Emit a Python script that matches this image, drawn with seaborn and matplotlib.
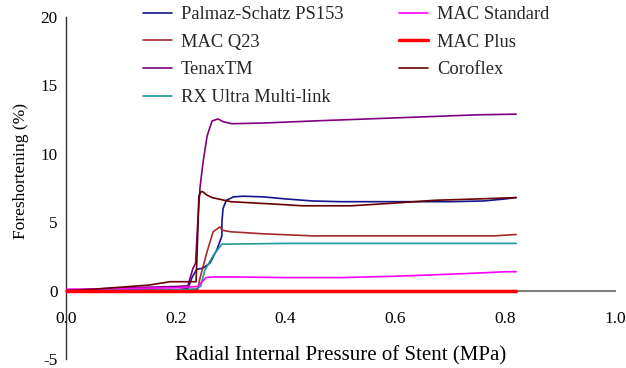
import numpy as np
import pandas as pd
import matplotlib
matplotlib.use("Agg")
import matplotlib.pyplot as plt
import seaborn as sns

sns.set_theme(style="white")
plt.rcParams['font.family'] = ['Liberation Serif', 'DejaVu Serif']

# ---- data ----
palmaz_x = [0, 0.1, 0.2, 0.222, 0.23, 0.238, 0.25, 0.262, 0.275, 0.284, 0.284, 0.286, 0.292, 0.305, 0.322, 0.36, 0.4, 0.45, 0.5, 0.6, 0.7, 0.76, 0.8, 0.82]
palmaz_y = [0, 0.03, 0.05, 0.15, 1.0, 1.55, 1.65, 2.0, 3.0, 4.0, 5.0, 6.0, 6.6, 6.85, 6.9, 6.85, 6.7, 6.55, 6.5, 6.5, 6.5, 6.55, 6.7, 6.8]

macq23_x = [0, 0.1, 0.2, 0.24, 0.244, 0.257, 0.268, 0.28, 0.286, 0.3, 0.36, 0.45, 0.6, 0.78, 0.82]
macq23_y = [0, 0.0, 0.05, 0.1, 0.9, 2.85, 4.3, 4.65, 4.4, 4.3, 4.15, 4.0, 4.0, 4.0, 4.1]

tenax_x = [0, 0.1, 0.2, 0.222, 0.231, 0.236, 0.24, 0.244, 0.25, 0.257, 0.266, 0.277, 0.286, 0.302, 0.36, 0.45, 0.55, 0.65, 0.75, 0.82]
tenax_y = [0, 0.2, 0.3, 0.35, 1.6, 2.0, 5.0, 7.5, 9.5, 11.3, 12.4, 12.55, 12.35, 12.2, 12.25, 12.4, 12.55, 12.7, 12.85, 12.9]

rx_x = [0, 0.1, 0.2, 0.235, 0.245, 0.253, 0.268, 0.284, 0.3, 0.4, 0.5, 0.6, 0.7, 0.82]
rx_y = [0, 0, 0.05, 0.1, 0.3, 1.5, 2.55, 3.4, 3.4, 3.45, 3.45, 3.45, 3.45, 3.45]

macstd_x = [0, 0.1, 0.2, 0.24, 0.255, 0.27, 0.3, 0.4, 0.5, 0.6, 0.7, 0.76, 0.8, 0.82]
macstd_y = [0.1, 0.15, 0.2, 0.3, 0.95, 1.0, 1.0, 0.95, 0.95, 1.05, 1.2, 1.3, 1.38, 1.38]

macplus_x = [0, 0.82]
macplus_y = [0, 0]

coroflex_x = [0, 0.05, 0.1, 0.15, 0.19, 0.237, 0.239, 0.242, 0.246, 0.25, 0.256, 0.266, 0.3, 0.39, 0.43, 0.52, 0.6, 0.67, 0.75, 0.82]
coroflex_y = [0, 0.1, 0.25, 0.4, 0.65, 0.65, 3.0, 6.9, 7.25, 7.2, 7.0, 6.8, 6.5, 6.3, 6.2, 6.2, 6.4, 6.6, 6.7, 6.8]

series = [
    ("Palmaz-Schatz PS153", palmaz_x, palmaz_y, "#14148c", 1.2),
    ("MAC Q23", macq23_x, macq23_y, "#a52a2a", 1.2),
    ("TenaxTM", tenax_x, tenax_y, "#800080", 1.2),
    ("RX Ultra Multi-link", rx_x, rx_y, "#1f9a9a", 1.2),
    ("MAC Standard", macstd_x, macstd_y, "#ff00ff", 1.2),
    ("MAC Plus", macplus_x, macplus_y, "#ff0000", 2.5),
    ("Coroflex", coroflex_x, coroflex_y, "#6a0000", 1.2),
]

fig = plt.figure(figsize=(6.26, 3.68), dpi=100)
ax = fig.add_axes([66/626, 1 - 359/368, (615-66)/626, (359-17)/368])

for name, xs, ys, col, lw in series:
    df = pd.DataFrame({"x": xs, "y": ys})
    sns.lineplot(data=df, x="x", y="y", ax=ax, color=col, linewidth=lw,
                 label=name, estimator=None, sort=False,
                 zorder=5 if name == "MAC Plus" else 3)

ax.set_xlim(0, 1.0)
ax.set_ylim(-5, 20)
ax.set_xticks([0, 0.2, 0.4, 0.6, 0.8, 1.0])
ax.set_xticklabels(["0.0", "0.2", "0.4", "0.6", "0.8", "1.0"])
ax.set_yticks([-5, 0, 5, 10, 15, 20])
ax.set_yticklabels(["-5", "0", "5", "10", "15", "20"])

ax.spines['top'].set_visible(False)
ax.spines['right'].set_visible(False)
ax.spines['bottom'].set_position(('data', 0))
ax.spines['bottom'].set_color('#808080')
ax.spines['bottom'].set_linewidth(1.5)
ax.spines['left'].set_color('#333333')
ax.spines['left'].set_linewidth(1.0)
ax.grid(False)

ax.tick_params(axis='x', direction='in', length=5, width=1, color='#555555',
               pad=15, labelsize=12.5, labelcolor='black')
ax.tick_params(axis='y', direction='in', length=5, width=1, color='#333333',
               pad=6, labelsize=12.3, labelcolor='black')

ax.set_xlabel("Radial Internal Pressure of Stent (MPa)", fontsize=15, color='black')
ax.xaxis.set_label_coords(0.5, 0.038)
ax.xaxis.label.set_va('top')
ax.set_ylabel("Foreshortening (%)", fontsize=12.5, color='black')
ax.yaxis.set_label_coords(-0.068, 0.55)

ax.legend(loc='upper left', bbox_to_anchor=(143/626, 1 - 6/368),
          bbox_transform=fig.transFigure, ncol=2, frameon=False,
          fontsize=13.3, borderpad=0, borderaxespad=0, handlelength=1.55,
          handletextpad=0.5, columnspacing=3.0, labelspacing=0.58)

fig.savefig("out.png", dpi=100)
